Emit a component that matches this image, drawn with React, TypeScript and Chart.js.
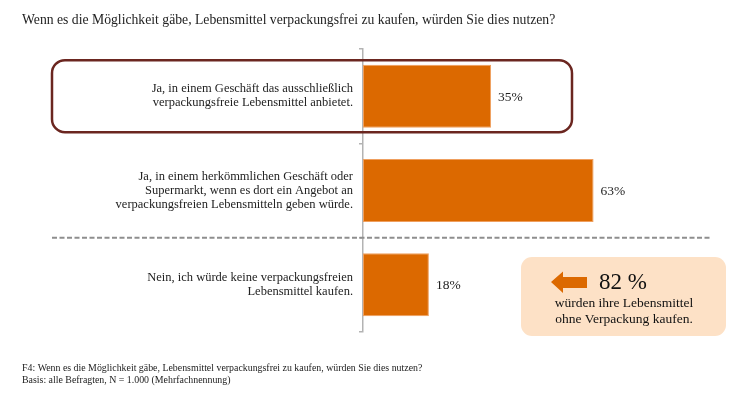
import React, { useEffect, useRef } from "react";
import { Chart, registerables } from "chart.js";

Chart.register(...registerables);

const titleText = "Wenn es die Möglichkeit gäbe, Lebensmittel verpackungsfrei zu kaufen, würden Sie dies nutzen?";
const categories: string[][] = [
  ["Ja, in einem Geschäft das ausschließlich", "verpackungsfreie Lebensmittel anbietet."],
  ["Ja, in einem herkömmlichen Geschäft oder", "Supermarkt, wenn es dort ein Angebot an", "verpackungsfreien Lebensmitteln geben würde."],
  ["Nein, ich würde keine verpackungsfreien", "Lebensmittel kaufen."],
];
const values: number[] = [35, 63, 18];
const highlightIndex = 0;
const calloutValue = "82 %";
const calloutLines: string[] = ["würden ihre Lebensmittel", "ohne Verpackung kaufen."];
const footerLines: string[] = [
  "F4: Wenn es die Möglichkeit gäbe, Lebensmittel verpackungsfrei zu kaufen, würden Sie dies nutzen?",
  "Basis: alle Befragten, N = 1.000 (Mehrfachnennung)",
];

const FONT = "'Liberation Serif', 'Times New Roman', serif";
const BAR = "#dc6900";
const TEXT = "#222222";

function roundRect(ctx: CanvasRenderingContext2D, x: number, y: number, w: number, h: number, r: number) {
  ctx.beginPath();
  ctx.moveTo(x + r, y);
  ctx.lineTo(x + w - r, y);
  ctx.arcTo(x + w, y, x + w, y + r, r);
  ctx.lineTo(x + w, y + h - r);
  ctx.arcTo(x + w, y + h, x + w - r, y + h, r);
  ctx.lineTo(x + r, y + h);
  ctx.arcTo(x, y + h, x, y + h - r, r);
  ctx.lineTo(x, y + r);
  ctx.arcTo(x, y, x + r, y, r);
  ctx.closePath();
}

const decorPlugin = {
  id: "decor",
  beforeDatasetsDraw(chart: any) {
    const ctx: CanvasRenderingContext2D = chart.ctx;
    const y = chart.scales.y;
    ctx.save();
    // highlight rounded box around first category
    const yc = y.getPixelForValue(highlightIndex);
    roundRect(ctx, 52, yc - 36, 520, 72, 13);
    ctx.strokeStyle = "#6b2620";
    ctx.lineWidth = 2.5;
    ctx.stroke();
    // dashed separator between 2nd and 3rd category
    const ys = (y.getPixelForValue(1) + y.getPixelForValue(2)) / 2;
    ctx.beginPath();
    ctx.setLineDash([5, 2.5]);
    ctx.moveTo(52, ys);
    ctx.lineTo(710, ys);
    ctx.strokeStyle = "#8e8e8e";
    ctx.lineWidth = 2;
    ctx.stroke();
    ctx.setLineDash([]);
    ctx.restore();
  },
  afterDatasetsDraw(chart: any) {
    const ctx: CanvasRenderingContext2D = chart.ctx;
    ctx.save();
    // value labels
    const meta = chart.getDatasetMeta(0);
    ctx.font = `13.5px ${FONT}`;
    ctx.fillStyle = TEXT;
    ctx.textAlign = "left";
    ctx.textBaseline = "middle";
    meta.data.forEach((bar: any, i: number) => {
      ctx.fillText(values[i] + "%", bar.x + 7, bar.y + 1);
    });

    // title
    ctx.font = `13.7px ${FONT}`;
    ctx.textBaseline = "alphabetic";
    ctx.fillText(titleText, 22, 24);

    // footer
    ctx.font = `9.9px ${FONT}`;
    ctx.fillText(footerLines[0], 22, 371);
    ctx.fillText(footerLines[1], 22, 383);

    // callout box
    roundRect(ctx, 521, 257, 205, 79, 11);
    ctx.fillStyle = "#fde1c6";
    ctx.fill();
    // arrow
    ctx.beginPath();
    ctx.moveTo(551, 282);
    ctx.lineTo(563, 271.5);
    ctx.lineTo(563, 277);
    ctx.lineTo(587, 277);
    ctx.lineTo(587, 288);
    ctx.lineTo(563, 288);
    ctx.lineTo(563, 293);
    ctx.closePath();
    ctx.fillStyle = BAR;
    ctx.fill();
    ctx.fillStyle = "#111111";
    ctx.font = `23px ${FONT}`;
    ctx.textAlign = "left";
    ctx.textBaseline = "middle";
    ctx.fillText(calloutValue, 599, 283);
    ctx.font = `13.5px ${FONT}`;
    ctx.textAlign = "center";
    ctx.fillText(calloutLines[0], 624, 303);
    ctx.fillText(calloutLines[1], 624, 319.5);
    ctx.restore();
  },
};

export default function App() {
  const ref = useRef<HTMLCanvasElement | null>(null);
  useEffect(() => {
    if (!ref.current) return;
    const chart = new Chart(ref.current, {
      type: "bar",
      data: {
        labels: categories as any,
        datasets: [
          {
            data: values,
            backgroundColor: BAR,
            borderColor: "#ef9f5e",
            borderWidth: 1,
            borderSkipped: false,
            barPercentage: 0.668,
            categoryPercentage: 1,
          },
        ],
      },
      options: {
        indexAxis: "y",
        responsive: false,
        animation: false,
        maintainAspectRatio: false,
        layout: { padding: { top: 49, bottom: 65, left: 0, right: 21 } },
        plugins: {
          legend: { display: false },
          tooltip: { enabled: false },
          title: { display: false },
        },
        scales: {
          x: { display: false, min: 0, max: 100 },
          y: {
            afterFit: (axis: any) => {
              axis.width = 363;
            },
            border: { display: true, color: "#b3b3b3", width: 1.5 },
            grid: {
              display: true,
              drawOnChartArea: false,
              drawTicks: true,
              tickLength: 4,
              color: "#b3b3b3",
              lineWidth: 1.5,
              offset: true,
            },
            ticks: {
              padding: 6,
              color: TEXT,
              font: { family: FONT, size: 12.5, lineHeight: 1.12 },
            },
          },
        },
      },
      plugins: [decorPlugin],
    });
    return () => chart.destroy();
  }, []);
  return (
    <div style={{ position: "absolute", left: 0, top: 0, width: 750, height: 397, background: "#ffffff" }}>
      <canvas ref={ref} width={750} height={397} style={{ width: 750, height: 397 }} />
    </div>
  );
}
